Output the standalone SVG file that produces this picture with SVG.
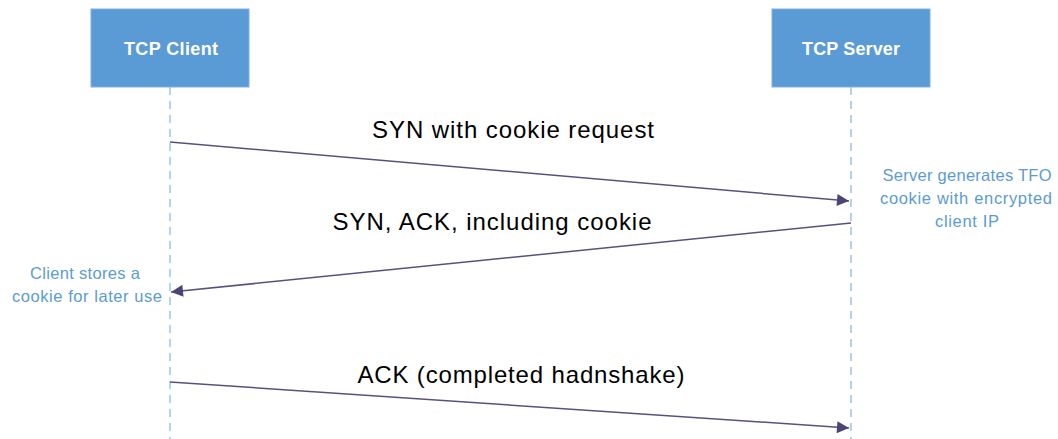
<svg xmlns="http://www.w3.org/2000/svg" width="1058" height="439" viewBox="0 0 1058 439">
<style>
.box{fill:#5b9bd5;stroke:#7fb0e0;stroke-width:1}
.bt{font-family:"Liberation Sans",Arial,sans-serif;font-size:18px;font-weight:bold;fill:#ffffff;text-anchor:middle}
.life{stroke:#9dc3e6;stroke-width:1.5;stroke-dasharray:8,6;fill:none}
.msg{stroke:#57517f;stroke-width:1.5;fill:none}
.ml{font-family:"Liberation Sans",Arial,sans-serif;font-size:24px;fill:#000000;text-anchor:middle}
.note{font-family:"Liberation Sans",Arial,sans-serif;font-size:16.5px;fill:#5b9bd5;text-anchor:middle}
</style>
<defs>
<marker id="ah" viewBox="0 0 10 10" refX="10" refY="5" markerWidth="13" markerHeight="12" markerUnits="userSpaceOnUse" orient="auto">
<path d="M0,0 L10,5 L0,10 z" fill="#4b4577"/>
</marker>
</defs>
<rect width="1058" height="439" fill="#ffffff"/>
<g id="client">
<rect class="box" x="91" y="9" width="158" height="78"/>
<text class="bt" x="171" y="55" textLength="94">TCP Client</text>
<line class="life" x1="170" y1="87" x2="170" y2="439"/>
</g>
<g id="server">
<rect class="box" x="772" y="9" width="158" height="78"/>
<text class="bt" x="851" y="55" textLength="98">TCP Server</text>
<line class="life" x1="851" y1="87" x2="851" y2="439"/>
</g>
<g id="connectors">
<line class="msg" x1="170" y1="142" x2="849" y2="201" marker-end="url(#ah)"/>
<line class="msg" x1="851" y1="223" x2="171" y2="292" marker-end="url(#ah)"/>
<line class="msg" x1="170" y1="382" x2="849" y2="428" marker-end="url(#ah)"/>
</g>
<g id="labels">
<text class="ml" x="513" y="138" textLength="282">SYN with cookie request</text>
<text class="ml" x="492" y="230" textLength="319">SYN, ACK, including cookie</text>
<text class="ml" x="521" y="383" textLength="327">ACK (completed hadnshake)</text>
</g>
<g id="note-server">
<text class="note" x="967" y="181" textLength="169">Server generates TFO</text>
<text class="note" x="966" y="204" textLength="172">cookie with encrypted</text>
<text class="note" x="967" y="227" textLength="64">client IP</text>
</g>
<g id="note-client">
<text class="note" x="85" y="279" textLength="110">Client stores a</text>
<text class="note" x="87" y="302" textLength="150">cookie for later use</text>
</g>
</svg>
